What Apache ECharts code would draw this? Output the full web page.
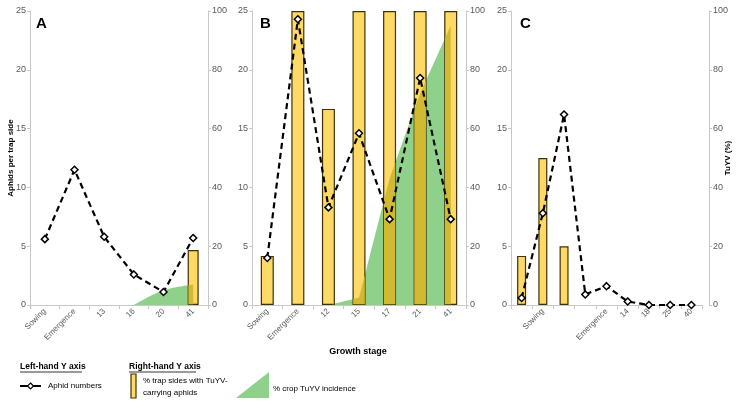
<!DOCTYPE html>
<html>
<head>
<meta charset="utf-8">
<script src="https://cdn.jsdelivr.net/npm/echarts@6/dist/echarts.min.js"></script>
<style>
html,body{margin:0;padding:0;background:#fff;}
#c{width:739px;height:407px;}
</style>
</head>
<body>
<div id="c"></div>
<script>
// ---------------- data ----------------
const catsA = ['Sowing', 'Emergence', '13', '16', '20', '41'];
const aphidsA = [5.6, 11.5, 5.8, 2.6, 1.1, 5.7];
const trapA = [null, null, null, null, null, 18.7];
const cropA = [null, null, null, 0, 5, 7];

const catsB = ['Sowing', 'Emergence', '12', '15', '17', '21', '41'];
const aphidsB = [4.0, 24.3, 8.3, 14.6, 7.3, 19.3, 7.3];
const trapB = [16.7, 100, 66.7, 100, 100, 100, 100];
const cropB = [null, null, 0, 2.5, 43, 72, 95];

const catsC = ['', 'Sowing', ' ', '  ', 'Emergence', '14', '18', '25', '40'];
const aphidsC = [0.6, 7.8, 16.2, 0.9, 1.6, 0.3, 0, 0, 0];
const trapC = [16.7, 50, 20, null, null, null, null, null, null];
const cropC = [null, null, null, null, null, null, null, null, null];

const leftTicks = [0, 5, 10, 15, 20, 25];
const rightTicks = [0, 20, 40, 60, 80, 100];
const panelLetters = ['A', 'B', 'C'];

// ---------------- styling ----------------
const FONT = 'Liberation Sans, Arial, sans-serif';
const AXIS_COLOR = '#c8c8c8';
const LABEL_COLOR = '#595959';
const YELLOW = '#ffd966';
const OLIVE = '#d2b932';
const GREEN = '#8fd18b';

const panels = [
  {cats: catsA, aphids: aphidsA, trap: trapA, crop: cropA, left: 30, width: 178, barWidth: 11, rOffset: 0, smooth: 0.35, letterX: 36},
  {cats: catsB, aphids: aphidsB, trap: trapB, crop: cropB, left: 252, width: 214, barWidth: 13, rOffset: 0, smooth: false, letterX: 260},
  {cats: catsC, aphids: aphidsC, trap: trapC, crop: cropC, left: 511, width: 191, barWidth: 9, rOffset: 7, smooth: false, letterX: 520}
];
const TOP = 11, HEIGHT = 294;

function makeOverlay(crop, bw) {
  return function (params, api) {
    const i = api.value(0), v = api.value(1);
    const pts = [];
    crop.forEach((g, j) => { if (g != null) pts.push(api.coord([j, g])); });
    const c0 = api.coord([i, 0]);
    const base = c0[1];
    const topY = api.coord([i, v])[1];
    const inset = 0.75;
    const x0 = c0[0] - bw / 2 + inset, x1 = c0[0] + bw / 2 - inset;
    const gy = function (x) {
      if (pts.length < 2 || x < pts[0][0] || x > pts[pts.length - 1][0]) return base;
      for (let k = 0; k < pts.length - 1; k++) {
        const a = pts[k], b = pts[k + 1];
        if (x >= a[0] && x <= b[0]) return a[1] + (x - a[0]) / (b[0] - a[0]) * (b[1] - a[1]);
      }
      return base;
    };
    const xs = [];
    for (let s = 0; s <= 60; s++) xs.push(x0 + (x1 - x0) * s / 60);
    xs.sort((a, b) => b - a);
    const poly = [[x0, base - inset], [x1, base - inset]];
    xs.forEach(x => {
      let y = Math.max(topY + inset, gy(x));
      y = Math.min(y, base - inset);
      poly.push([x, y]);
    });
    return {type: 'polygon', shape: {points: poly}, style: {fill: OLIVE}};
  };
}

const grid = [], xAxis = [], yAxis = [], series = [];
panels.forEach((p, k) => {
  grid.push({left: p.left, top: TOP, width: p.width, height: HEIGHT});
  xAxis.push({
    type: 'category', gridIndex: k, data: p.cats, boundaryGap: true,
    axisLine: {lineStyle: {color: AXIS_COLOR, width: 1}},
    axisTick: {show: true, length: 4, lineStyle: {color: AXIS_COLOR}},
    axisLabel: {rotate: 45, fontSize: 8, color: LABEL_COLOR, margin: 5, interval: 0, fontFamily: FONT},
    splitLine: {show: false}
  });
  yAxis.push({
    type: 'value', gridIndex: k, position: 'left',
    min: leftTicks[0], max: leftTicks[leftTicks.length - 1], interval: leftTicks[1] - leftTicks[0],
    axisLine: {show: true, lineStyle: {color: AXIS_COLOR}},
    axisTick: {show: true, length: 3, lineStyle: {color: AXIS_COLOR}},
    axisLabel: {fontSize: 9, color: LABEL_COLOR, margin: 4, fontFamily: FONT},
    splitLine: {show: false},
    name: k === 0 ? 'Aphids per trap side' : '',
    nameLocation: 'middle', nameRotate: 90, nameGap: 15, nameMoveOverlap: false,
    nameTextStyle: {fontSize: 8, fontWeight: 'bold', color: '#000', fontFamily: FONT}
  });
  yAxis.push({
    type: 'value', gridIndex: k, position: 'right', offset: p.rOffset,
    min: rightTicks[0], max: rightTicks[rightTicks.length - 1], interval: rightTicks[1] - rightTicks[0],
    axisLine: {show: true, lineStyle: {color: AXIS_COLOR}},
    axisTick: {show: true, length: 3, lineStyle: {color: AXIS_COLOR}},
    axisLabel: {fontSize: 9, color: LABEL_COLOR, margin: 4, fontFamily: FONT},
    splitLine: {show: false},
    name: k === 2 ? 'TuYV (%)' : '',
    nameLocation: 'middle', nameRotate: 90, nameGap: 15, nameMoveOverlap: false,
    nameTextStyle: {fontSize: 8, fontWeight: 'bold', color: '#000', fontFamily: FONT}
  });
  const hasCrop = p.crop.filter(g => g != null).length >= 2;
  if (hasCrop) {
    series.push({
      type: 'line', xAxisIndex: k, yAxisIndex: 2 * k + 1, data: p.crop,
      symbol: 'none', smooth: p.smooth, lineStyle: {width: 0, color: GREEN},
      areaStyle: {color: GREEN, opacity: 1}, z: 1
    });
  }
  series.push({
    type: 'bar', xAxisIndex: k, yAxisIndex: 2 * k + 1, data: p.trap, barWidth: p.barWidth,
    itemStyle: {color: YELLOW, borderColor: '#3d3205', borderWidth: 1.2},
    z: 2
  });
  if (hasCrop) {
    series.push({
      type: 'custom', xAxisIndex: k, yAxisIndex: 2 * k + 1,
      data: p.trap.map((v, i) => [i, v == null ? 0 : v]),
      renderItem: makeOverlay(p.crop, p.barWidth), z: 4
    });
  }
  series.push({
    type: 'line', xAxisIndex: k, yAxisIndex: 2 * k, data: p.aphids,
    symbol: 'diamond', symbolSize: 7, showAllSymbol: true,
    itemStyle: {color: '#fff', borderColor: '#000', borderWidth: 1.5},
    lineStyle: {color: '#000', width: 2.2, type: [6, 4]},
    z: 6
  });
});

const graphic = [];
panels.forEach((p, k) => {
  graphic.push({type: 'text', x: p.letterX, y: 16, style: {text: panelLetters[k], font: 'bold 15px ' + FONT, fill: '#000'}});
});
graphic.push({type: 'text', x: 358, y: 352, style: {text: 'Growth stage', font: 'bold 9px ' + FONT, fill: '#000', align: 'center', verticalAlign: 'middle'}});
// legend
graphic.push({type: 'text', x: 20, y: 367, style: {text: 'Left-hand Y axis', font: 'bold 8.5px ' + FONT, fill: '#000', verticalAlign: 'middle'}});
graphic.push({type: 'line', shape: {x1: 20, y1: 372, x2: 82, y2: 372}, style: {stroke: '#000', lineWidth: 0.8}});
graphic.push({type: 'line', shape: {x1: 20, y1: 386, x2: 41, y2: 386}, style: {stroke: '#000', lineWidth: 2}});
graphic.push({type: 'polygon', shape: {points: [[30.5, 383], [33.5, 386], [30.5, 389], [27.5, 386]]}, style: {fill: '#fff', stroke: '#000', lineWidth: 1.2}});
graphic.push({type: 'text', x: 48, y: 386, style: {text: 'Aphid numbers', font: '8px ' + FONT, fill: '#000', verticalAlign: 'middle'}});
graphic.push({type: 'text', x: 129, y: 367, style: {text: 'Right-hand Y axis', font: 'bold 8.5px ' + FONT, fill: '#000', verticalAlign: 'middle'}});
graphic.push({type: 'line', shape: {x1: 129, y1: 372, x2: 196, y2: 372}, style: {stroke: '#000', lineWidth: 0.8}});
graphic.push({type: 'rect', shape: {x: 131, y: 374, width: 5, height: 24}, style: {fill: YELLOW, stroke: '#3d3205', lineWidth: 1.2}});
graphic.push({type: 'text', x: 143, y: 381, style: {text: '% trap sides with TuYV-', font: '8px ' + FONT, fill: '#000', verticalAlign: 'middle'}});
graphic.push({type: 'text', x: 143, y: 393, style: {text: 'carrying aphids', font: '8px ' + FONT, fill: '#000', verticalAlign: 'middle'}});
graphic.push({type: 'polygon', shape: {points: [[236, 398], [269, 372], [269, 398]]}, style: {fill: GREEN}});
graphic.push({type: 'text', x: 273, y: 389, style: {text: '% crop TuYV incidence', font: '8px ' + FONT, fill: '#000', verticalAlign: 'middle'}});

const chart = echarts.init(document.getElementById('c'));
chart.setOption({
  animation: false,
  backgroundColor: '#fff',
  textStyle: {fontFamily: FONT},
  grid, xAxis, yAxis, series, graphic
});
</script>
</body>
</html>
